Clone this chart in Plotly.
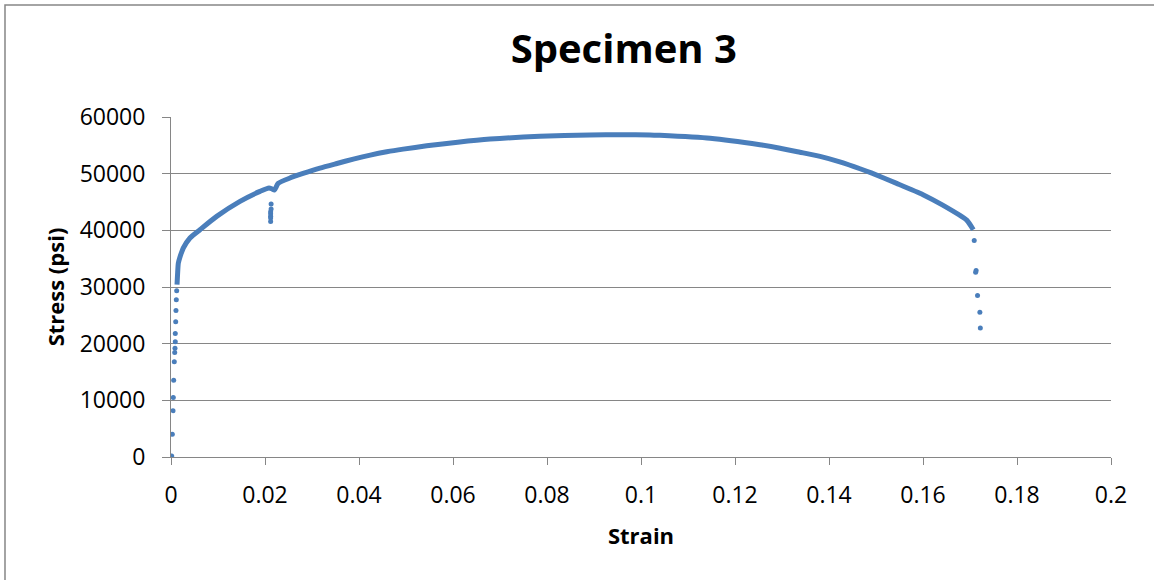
import plotly.graph_objects as go

# Continuous (dense) part of the stress-strain record
curve_strain = [0.00128, 0.00140, 0.00156, 0.00191, 0.00227, 0.00262, 0.00404, 0.00617,
                0.00972, 0.01468, 0.01894, 0.02085, 0.02150, 0.02200, 0.02280, 0.0253,
                0.0281, 0.0317, 0.0353, 0.0388, 0.0424, 0.0459, 0.0494, 0.0544, 0.0610,
                0.0679, 0.0785, 0.0891, 0.0960, 0.1019, 0.1040, 0.1147, 0.1253, 0.1296,
                0.1338, 0.1381, 0.1423, 0.1466, 0.1490, 0.1544, 0.1600, 0.1643, 0.1693,
                0.1707]
curve_stress = [30400, 32300, 34200, 35300, 36150, 36880, 38640, 40110,
                42460, 45110, 46880, 47480, 47300, 47100, 48280, 49230,
                50040, 50990, 51800, 52570, 53280, 53860, 54330, 54910, 55550,
                56100, 56600, 56840, 56880, 56840, 56770, 56250, 55100, 54500,
                53790, 53040, 52070, 50870, 50130, 48290, 46300, 44400, 41800,
                40090]

# Sparse (isolated) data points
pts_strain = [0.00015, 0.00028, 0.00043, 0.00049, 0.00057, 0.00070, 0.00079, 0.00085,
              0.00091, 0.00091, 0.00100, 0.00106, 0.00113, 0.00121,
              0.0213, 0.0213, 0.0212, 0.0212, 0.0212, 0.0212, 0.0212,
              0.1709, 0.1713, 0.1712, 0.1716, 0.1721, 0.1722]
pts_stress = [180, 4010, 8180, 10480, 13550, 16790, 18430, 19210,
              20320, 21790, 23860, 25850, 27740, 29330,
              44650, 43770, 43300, 42940, 42500, 42180, 41580,
              38200, 32920, 32620, 28520, 25530, 22760]

x_ticks = [0, 0.02, 0.04, 0.06, 0.08, 0.1, 0.12, 0.14, 0.16, 0.18, 0.2]
x_tick_text = ["0", "0.02", "0.04", "0.06", "0.08", "0.1", "0.12", "0.14", "0.16", "0.18", "0.2"]
y_ticks = [0, 10000, 20000, 30000, 40000, 50000, 60000]
y_tick_text = ["0", "10000", "20000", "30000", "40000", "50000", "60000"]

BLUE = "#4A7EBB"
GRAY = "#868686"
FONT = "Open Sans"

fig = go.Figure()
fig.add_trace(go.Scatter(x=curve_strain, y=curve_stress, mode="lines",
                         line=dict(color=BLUE, width=5, shape="spline", smoothing=0.6),
                         hoverinfo="x+y"))
fig.add_trace(go.Scatter(x=pts_strain, y=pts_stress, mode="markers",
                         marker=dict(color=BLUE, size=5, symbol="circle"), hoverinfo="x+y"))

fig.update_layout(
    width=1154, height=580,
    margin=dict(l=171, r=43, t=117, b=123),
    paper_bgcolor="white", plot_bgcolor="white",
    showlegend=False,
    font=dict(family=FONT, color="black"),
    title=dict(text="<b>Specimen 3</b>", x=0.5405, xanchor="center",
               y=0.915, yanchor="middle", font=dict(size=40, family=FONT, color="black")),
    xaxis=dict(range=[0, 0.2], tickvals=x_ticks, ticktext=x_tick_text,
               ticks="outside", ticklen=7, tickcolor=GRAY, tickwidth=1,
               showline=True, linecolor=GRAY, linewidth=1,
               showgrid=False, zeroline=False,
               tickfont=dict(size=23, family=FONT, color="black"),
               ticklabelstandoff=10,
               title=dict(text="<b>Strain</b>", font=dict(size=22, family=FONT, color="black"),
                          standoff=20)),
    yaxis=dict(range=[0, 60000], tickvals=y_ticks, ticktext=y_tick_text,
               ticks="outside", ticklen=8, tickcolor=GRAY, tickwidth=1,
               showline=True, linecolor=GRAY, linewidth=1,
               showgrid=True, gridcolor=GRAY, gridwidth=1,
               zeroline=False,
               tickfont=dict(size=23, family=FONT, color="black"),
               ticklabelstandoff=12,
               title=dict(text="<b>Stress (psi)</b>", font=dict(size=22, family=FONT, color="black"),
                          standoff=8)),
    shapes=[dict(type="rect", xref="paper", yref="paper",
                 x0=-0.1766, x1=1.2, y0=-0.6, y1=1.3294,
                 line=dict(color=GRAY, width=1.5), fillcolor="rgba(0,0,0,0)", layer="below")],
)

fig.write_html("out.html")
